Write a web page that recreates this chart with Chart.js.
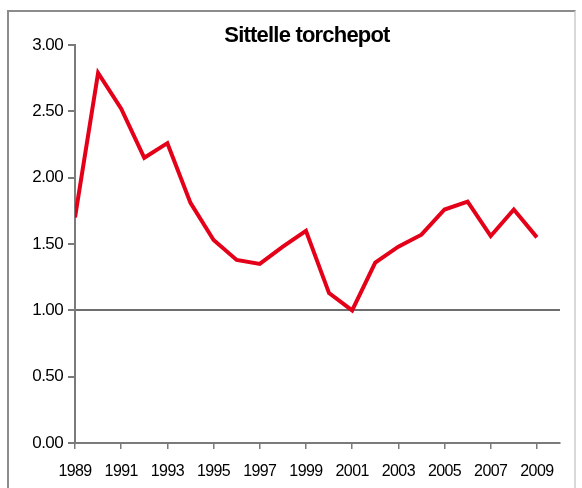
<!DOCTYPE html>
<html lang="fr">
<head>
    <meta charset="UTF-8">
    <title>Sittelle torchepot</title>
    <script src="https://cdn.jsdelivr.net/npm/chart.js"></script>
    <style>
        body {
            margin: 0;
            background-color: #fff;
        }

        .frame {
            position: absolute;
            left: 7px;
            top: 10px;
            width: 565px;
            height: 520px;
            border: 2px solid #8c8c8c;
            border-right-color: #d8d8d8;
        }

        #chart {
            position: absolute;
            left: 0;
            top: 0;
        }
    </style>
</head>
<body>
    <div class="frame"></div>
    <canvas id="chart" width="582" height="488"></canvas>

    <script>
        // donnees
        const years = [1989, 1990, 1991, 1992, 1993, 1994, 1995, 1996, 1997, 1998, 1999,
                       2000, 2001, 2002, 2003, 2004, 2005, 2006, 2007, 2008, 2009];
        const values = [1.70, 2.79, 2.52, 2.15, 2.26, 1.81, 1.53, 1.38, 1.35, 1.48, 1.60,
                        1.13, 1.00, 1.36, 1.48, 1.57, 1.76, 1.82, 1.56, 1.76, 1.55];
        const yearTicks = [1989, 1991, 1993, 1995, 1997, 1999, 2001, 2003, 2005, 2007, 2009];
        const chartTitle = 'Sittelle torchepot';

        const axisGray = '#7a7a7a';
        const fontFamily = '"Liberation Sans", Arial, sans-serif';

        // texte un peu serre comme dans l'original
        const tightText = {
            id: 'tightText',
            beforeDraw(chart) {
                chart.ctx.letterSpacing = '-0.6px';
            }
        };

        // titre dessine a la main
        const titlePlugin = {
            id: 'titleText',
            afterDraw(chart) {
                const ctx = chart.ctx;
                ctx.save();
                ctx.letterSpacing = '-0.8px';
                ctx.font = 'bold 22px ' + fontFamily;
                ctx.fillStyle = '#000';
                ctx.textAlign = 'center';
                ctx.textBaseline = 'alphabetic';
                ctx.fillText(chartTitle, 307, 42);
                ctx.restore();
            }
        };

        new Chart(document.getElementById('chart'), {
            type: 'line',
            data: {
                datasets: [{
                    data: years.map((y, i) => ({ x: y, y: values[i] })),
                    borderColor: '#e5001a',
                    borderWidth: 4,
                    pointRadius: 0,
                    tension: 0,
                    fill: false
                }]
            },
            options: {
                responsive: false,
                animation: false,
                layout: { padding: { top: 45, right: 22, left: 0, bottom: 0 } },
                plugins: {
                    legend: { display: false },
                    title: { display: false },
                    tooltip: { enabled: false }
                },
                scales: {
                    x: {
                        type: 'linear',
                        min: 1989,
                        max: 2010,
                        afterBuildTicks: axis => {
                            axis.ticks = yearTicks.map(v => ({ value: v }));
                        },
                        afterFit: axis => { axis.height = 45; },
                        border: { color: axisGray, width: 2 },
                        grid: {
                            drawOnChartArea: false,
                            tickLength: 6,
                            tickColor: axisGray,
                            lineWidth: 1.5
                        },
                        ticks: {
                            autoSkip: false,
                            maxRotation: 0,
                            padding: 13,
                            color: '#000',
                            font: { family: fontFamily, size: 16 },
                            callback: v => String(v)
                        }
                    },
                    y: {
                        min: 0,
                        max: 3,
                        afterFit: axis => { axis.width = 75; },
                        border: { color: axisGray, width: 2 },
                        grid: {
                            color: c => (c.tick && c.tick.value === 1) ? '#6e6e6e' : 'rgba(0,0,0,0)',
                            lineWidth: 2,
                            tickLength: 7,
                            tickColor: axisGray
                        },
                        ticks: {
                            stepSize: 0.5,
                            padding: 5,
                            color: '#000',
                            font: { family: fontFamily, size: 17 },
                            callback: v => v.toFixed(2)
                        }
                    }
                }
            },
            plugins: [tightText, titlePlugin]
        });
    </script>
</body>
</html>
